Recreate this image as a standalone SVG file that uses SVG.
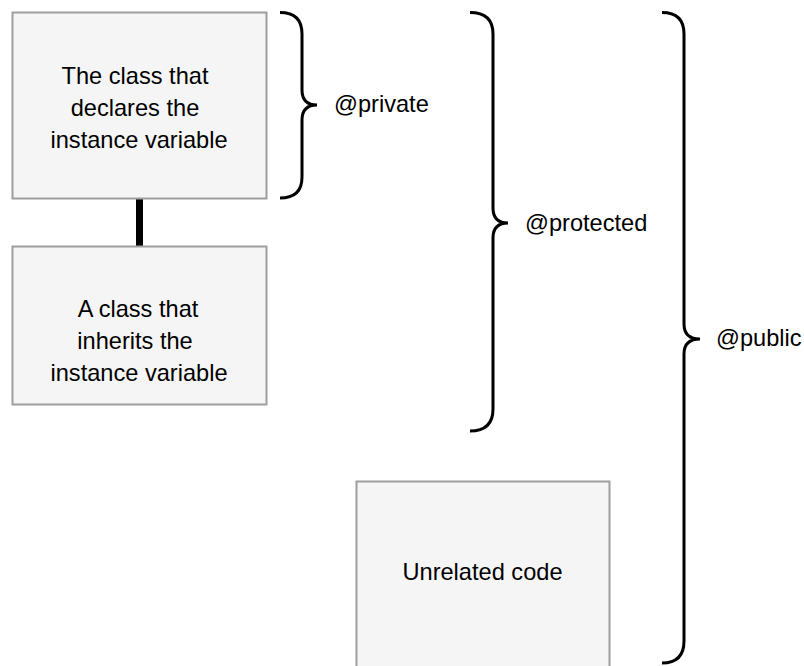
<svg xmlns="http://www.w3.org/2000/svg" width="804" height="666" viewBox="0 0 804 666">
<style>
.box{fill:#f5f5f5;stroke:#9e9e9e;stroke-width:2}
.t{font-family:"Liberation Sans",Arial,sans-serif;font-size:23.6px;fill:#000}
.m{text-anchor:middle}
.brace{fill:none;stroke:#000;stroke-width:3;stroke-linecap:butt}
</style>
<rect width="804" height="666" fill="#fff"/>
<g id="connectors">
<line x1="139.5" y1="199" x2="139.5" y2="246" stroke="#000" stroke-width="7"/>
</g>
<g id="declaring-class">
<rect class="box" x="12.5" y="12.5" width="254" height="186"/>
<text class="t m" x="135" y="83.5">The class that</text>
<text class="t m" x="135" y="115.5">declares the</text>
<text class="t m" x="139" y="147.5">instance variable</text>
</g>
<g id="inheriting-class">
<rect class="box" x="12.5" y="246.5" width="254" height="158"/>
<text class="t m" x="138" y="317">A class that</text>
<text class="t m" x="135" y="349">inherits the</text>
<text class="t m" x="139" y="381">instance variable</text>
</g>
<g id="unrelated-code">
<rect class="box" x="356.5" y="481.5" width="253" height="200"/>
<text class="t m" x="482.5" y="580">Unrelated code</text>
</g>
<g id="private">
<path class="brace" d="M280,12.5 Q302,12.5 302,34 L302,90 Q302,105 317,105 Q302,105 302,120 L302,177 Q302,198 280,198"/>
<text class="t" x="334" y="112">@private</text>
</g>
<g id="protected">
<path class="brace" d="M470,12.5 Q493,12.5 493,34 L493,208 Q493,223 508,223 Q493,223 493,238 L493,409 Q493,431 470,431"/>
<text class="t" x="525" y="231">@protected</text>
</g>
<g id="public">
<path class="brace" d="M662,12.5 Q684,12.5 684,34 L684,324 Q684,339 700,339 Q684,339 684,354 L684,641 Q684,663 662,663"/>
<text class="t" x="716" y="346">@public</text>
</g>
</svg>
